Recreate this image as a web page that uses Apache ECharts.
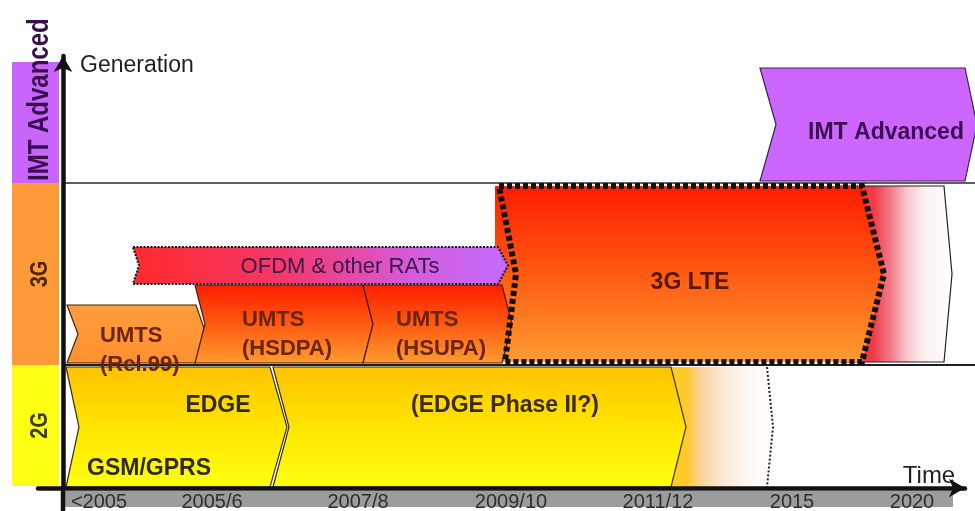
<!DOCTYPE html>
<html>
<head>
<meta charset="utf-8">
<script src="https://cdn.jsdelivr.net/npm/echarts@6/dist/echarts.min.js"></script>
<style>
  html, body { margin: 0; padding: 0; background: #ffffff; }
  #chart { width: 975px; height: 511px; }
</style>
</head>
<body>
<div id="chart"></div>
<script>
// ---- Timeline (x) ticks ----
const timeLabels = ['<2005', '2005/6', '2007/8', '2009/10', '2011/12', '2015', '2020'];
const timeTicks = [3.6, 14.9, 29.5, 44.8, 59.5, 72.9, 84.9];

// ---- Generation rows (y) ----
const generations = ['2G', '3G', 'IMT Advanced'];
const generationFrom = [0.2, 12.3, 30.5];
const generationTo = [12.3, 30.5, 42.6];

// ---- Technology phases: time span and generation span ----
const phases = ['3G LTE outlook', 'EDGE outlook', '3G LTE', 'UMTS (Rel.99)', 'UMTS (HSDPA)',
                'UMTS (HSUPA)', 'OFDM & other RATs', 'IMT Advanced', 'GSM/GPRS & EDGE', 'EDGE Phase II'];
const phaseStart = [77.7, 59.7, 43.2, 0.4, 13.2, 30.0, 7.0, 69.7, 0.3, 21.0];
const phaseEnd   = [88.9, 71.0, 82.1, 14.3, 31.0, 44.9, 44.5, 91.4, 22.4, 62.3];
const phaseLow   = [12.6, 0.1, 12.6, 12.5, 12.5, 12.5, 20.4, 30.7, 0.1, 0.1];
const phaseHigh  = [30.2, 12.1, 30.2, 18.3, 20.3, 20.3, 24.1, 42.0, 12.1, 12.1];

// ---- Captions written on the phases ----
const captions = ['IMT Advanced', '3G LTE', 'OFDM & other RATs', 'UMTS\n(Rel.99)', 'UMTS\n(HSDPA)',
                  'UMTS\n(HSUPA)', 'EDGE', 'GSM/GPRS', '(EDGE Phase II?)'];

// Where each caption sits (time, generation units) and how it is aligned
const captionLayout = {
  'IMT Advanced':      { at: [82.3, 35.5], align: 'center' },
  '3G LTE':            { at: [62.7, 20.5], align: 'center' },
  'OFDM & other RATs': { at: [27.7, 22.1], align: 'center' },
  'UMTS\n(Rel.99)':    { at: [3.7, 13.8], align: 'left' },
  'UMTS\n(HSDPA)':     { at: [17.9, 15.4], align: 'left' },
  'UMTS\n(HSUPA)':     { at: [33.3, 15.4], align: 'left' },
  'EDGE':              { at: [15.5, 8.2], align: 'center' },
  'GSM/GPRS':          { at: [8.6, 1.9], align: 'center' },
  '(EDGE Phase II?)':  { at: [44.2, 8.2], align: 'center' }
};

const FONT = "'Liberation Sans', Arial, sans-serif";

function lin(dir, stops) {
  return new echarts.graphic.LinearGradient(0, 0, dir === 'h' ? 1 : 0, dir === 'h' ? 0 : 1,
    stops.map(s => ({ offset: s[0], color: s[1] })));
}

const redOrange = () => lin('v', [[0, '#ff1c00'], [0.5, '#ff5a12'], [1, '#ff9c30']]);
const yellow = () => lin('v', [[0, '#ffc200'], [0.55, '#ffe800'], [1, '#ffff10']]);

// Look of each phase shape (notch = left notch depth, right point depth in px)
const phaseLook = {
  '3G LTE outlook': {
    fill: lin('h', [[0, '#ff3010'], [0.3, '#f03a48'], [0.45, '#f27a88'], [0.6, '#f8c8cc'], [0.76, '#fdf2f2'], [1, '#ffffff']]),
    stroke: '#222', lineWidth: 1.2, notch: [8, 8]
  },
  'EDGE outlook': {
    fill: lin('h', [[0, '#ffd000'], [0.24, '#ffc830'], [0.36, '#f9d49a'], [0.55, '#fbe7d2'], [0.78, '#fef8f4'], [1, '#ffffff']]),
    notch: [6, 6], edge: { color: '#222', width: 2, dash: [2, 2] }
  },
  '3G LTE': {
    fill: redOrange(), notch: [17, 22], straightFill: true,
    border: { color: '#111', width: 6, dash: [5, 3], inset: 4, bottomShift: 6 }
  },
  'UMTS (Rel.99)': {
    fill: lin('v', [[0, '#ff9d3c'], [1, '#ff9030']]), stroke: '#4a2208', lineWidth: 1.2, notch: [11, 10]
  },
  'UMTS (HSDPA)': { fill: redOrange(), stroke: '#4a1a08', lineWidth: 1.2, notch: [10, 10] },
  'UMTS (HSUPA)': { fill: redOrange(), stroke: '#4a1a08', lineWidth: 1.2, notch: [10, 10] },
  'OFDM & other RATs': {
    fill: lin('h', [[0, '#ff2a2a'], [0.4, '#f4386a'], [0.75, '#d45cdc'], [1, '#c46cff']]),
    stroke: '#1c1830', lineWidth: 2.2, dash: [2, 1.5], notch: [6, 10]
  },
  'IMT Advanced': { fill: '#cc66ff', stroke: '#3a2050', lineWidth: 1.2, notch: [16, 12] },
  'GSM/GPRS & EDGE': { fill: yellow(), stroke: '#3a3010', lineWidth: 1.2, notch: [13, 17] },
  'EDGE Phase II': { fill: yellow(), stroke: '#3a3010', lineWidth: 1.2, notch: [16, 15] }
};

const captionLook = {
  'IMT Advanced':      { font: 'bold 23px ' + FONT, color: '#3a1050' },
  '3G LTE':            { font: 'bold 23px ' + FONT, color: '#551806' },
  'OFDM & other RATs': { font: 'normal 22px ' + FONT, color: '#3a1a48' },
  'UMTS\n(Rel.99)':    { font: 'bold 22px ' + FONT, color: '#6a2410', lineHeight: 29 },
  'UMTS\n(HSDPA)':     { font: 'bold 22px ' + FONT, color: '#6a2410', lineHeight: 29 },
  'UMTS\n(HSUPA)':     { font: 'bold 22px ' + FONT, color: '#6a2410', lineHeight: 29 },
  'EDGE':              { font: 'bold 23px ' + FONT, color: '#2e2a18' },
  'GSM/GPRS':          { font: 'bold 23px ' + FONT, color: '#2e2a18' },
  '(EDGE Phase II?)':  { font: 'bold 23px ' + FONT, color: '#3a2a12' }
};

const generationLook = {
  '2G': { fill: '#ffff14', text: '#3a3a10', size: 20, align: 'center' },
  '3G': { fill: '#ff9a38', text: '#4a2508', size: 20, align: 'center', rule: { color: '#1e1e2a', width: 2.2 } },
  'IMT Advanced': { fill: '#c866fc', text: '#3a0f50', size: 24, align: 'left', rule: { color: '#2a2a2a', width: 1.6 } }
};

function drawGeneration(params, api) {
  const i = api.value(2);
  const name = generations[i];
  const look = generationLook[name];
  const top = api.coord([0, api.value(1)]);
  const bottom = api.coord([0, api.value(0)]);
  const axisX = top[0];
  const children = [
    { type: 'rect', shape: { x: axisX - 51, y: top[1], width: 47, height: bottom[1] - top[1] },
      style: { fill: look.fill }, z2: 0 },
    { type: 'text', x: axisX - 23, y: look.align === 'left' ? bottom[1] - 2 : (top[1] + bottom[1]) / 2,
      rotation: Math.PI / 2, scaleY: 1.2,
      style: { text: name, fill: look.text, font: 'bold ' + look.size + 'px ' + FONT,
               align: look.align, verticalAlign: 'middle' }, z2: 1 }
  ];
  // separator between this row and the one above it
  if (i < generations.length - 1) {
    const r = generationLook[generations[i + 1]].rule;
    children.push({ type: 'line', shape: { x1: axisX, y1: top[1], x2: api.getWidth(), y2: top[1] },
      style: { stroke: r.color, lineWidth: r.width }, z2: 300 });
  }
  return { type: 'group', children };
}

function drawPhase(params, api) {
  const idx = api.value(4);
  const look = phaseLook[phases[idx]];
  const p0 = api.coord([api.value(0), api.value(3)]);
  const p1 = api.coord([api.value(1), api.value(2)]);
  const x0 = p0[0], yt = p0[1], x1 = p1[0], yb = p1[1], ym = (yt + yb) / 2;
  const nl = look.notch[0], nr = look.notch[1];
  const z = 10 + idx * 2;
  const children = [];
  if (look.straightFill) {
    children.push({ type: 'polygon',
      shape: { points: [[x0, yt], [x1 - nr, yt], [x1, ym], [x1 - nr, yb], [x0, yb]] },
      style: { fill: look.fill }, z2: z });
    const b = look.border;
    const bx = x0 + b.inset;
    children.push({ type: 'polygon',
      shape: { points: [[bx, yt], [x1 - nr, yt], [x1, ym], [x1 - nr, yb], [bx + b.bottomShift, yb], [bx + nl, ym]] },
      style: { fill: null, stroke: b.color, lineWidth: b.width, lineDash: b.dash }, z2: 200 });
  } else {
    children.push({ type: 'polygon',
      shape: { points: [[x0, yt], [x1 - nr, yt], [x1, ym], [x1 - nr, yb], [x0, yb], [x0 + nl, ym]] },
      style: { fill: look.fill, stroke: look.stroke || null, lineWidth: look.lineWidth || 0,
               lineDash: look.dash || null }, z2: z });
  }
  if (look.edge) {
    children.push({ type: 'polyline',
      shape: { points: [[x1 - nr, yt], [x1, ym], [x1 - nr, yb]] },
      style: { fill: null, stroke: look.edge.color, lineWidth: look.edge.width, lineDash: look.edge.dash },
      z2: z + 1 });
  }
  return { type: 'group', children };
}

function drawCaption(params, api) {
  const text = captions[api.value(2)];
  const look = captionLook[text];
  const lay = captionLayout[text];
  const p = api.coord([api.value(0), api.value(1)]);
  return { type: 'text', x: p[0], y: p[1], z2: 400,
    style: { text, font: look.font, fill: look.color, align: lay.align, verticalAlign: 'middle',
             lineHeight: look.lineHeight || undefined } };
}

// Grey strip under the time axis, plus the generation axis running on below it
function drawTimeBand(params, api) {
  const a = api.coord([api.value(0), api.value(3)]);
  const b = api.coord([api.value(1), api.value(2)]);
  const origin = api.coord([0, 0]);
  return { type: 'group', children: [
    { type: 'rect', shape: { x: a[0], y: a[1], width: b[0] - a[0], height: b[1] - a[1] },
      style: { fill: '#9a9c9e' }, z2: 0 },
    { type: 'line', shape: { x1: origin[0], y1: origin[1], x2: origin[0], y2: api.getHeight() },
      style: { stroke: '#111', lineWidth: 4.5 }, z2: 1 }
  ] };
}

const chart = echarts.init(document.getElementById('chart'), null, { renderer: 'canvas' });

chart.setOption({
  animation: false,
  backgroundColor: '#ffffff',
  grid: { left: 38, right: 10, top: 56, bottom: 23, outerBoundsMode: 'none', containLabel: false },
  xAxis: {
    type: 'value', min: -2.5, max: 90.2, z: 10,
    name: 'Time', nameLocation: 'end', nameGap: -36,
    nameTextStyle: { fontFamily: FONT, fontSize: 24, color: '#222', align: 'center', verticalAlign: 'bottom', lineHeight: 24 },
    axisLine: { show: true, onZero: false, symbol: ['none', 'arrow'], symbolSize: [14, 16],
                lineStyle: { color: '#111', width: 4.5 } },
    axisTick: { show: false },
    splitLine: { show: false },
    axisLabel: {
      customValues: timeTicks, margin: 4, fontFamily: FONT, fontSize: 20, color: '#2e2e2e',
      formatter: v => {
        const k = timeTicks.findIndex(t => Math.abs(t - v) < 1e-6);
        return k >= 0 ? timeLabels[k] : '';
      }
    }
  },
  yAxis: {
    type: 'value', min: 0, max: 43.2, z: 10,
    name: 'Generation', nameLocation: 'end', nameGap: -10,
    nameTextStyle: { fontFamily: FONT, fontSize: 23, color: '#1e1e1e', align: 'left', verticalAlign: 'middle',
                     padding: [0, 0, 0, 17] },
    axisLine: { show: true, onZero: true, symbol: ['none', 'arrow'], symbolSize: [14, 16],
                lineStyle: { color: '#111', width: 4.5 } },
    axisTick: { show: false },
    axisLabel: { show: false },
    splitLine: { show: false }
  },
  series: [
    {
      type: 'custom', name: 'time band', renderItem: drawTimeBand, silent: true, z: 1,
      data: [[-0.1, 89.0, -0.3, -1.9]]
    },
    {
      type: 'custom', name: 'generations', renderItem: drawGeneration, silent: true, z: 2,
      data: generations.map((g, i) => [generationFrom[i], generationTo[i], i])
    },
    {
      type: 'custom', name: 'phases', renderItem: drawPhase, silent: true, z: 3,
      encode: { x: [0, 1], y: [2, 3] },
      data: phases.map((p, i) => [phaseStart[i], phaseEnd[i], phaseLow[i], phaseHigh[i], i])
    },
    {
      type: 'custom', name: 'captions', renderItem: drawCaption, silent: true, z: 4,
      data: captions.map((c, i) => [captionLayout[c].at[0], captionLayout[c].at[1], i])
    }
  ]
});
</script>
</body>
</html>
